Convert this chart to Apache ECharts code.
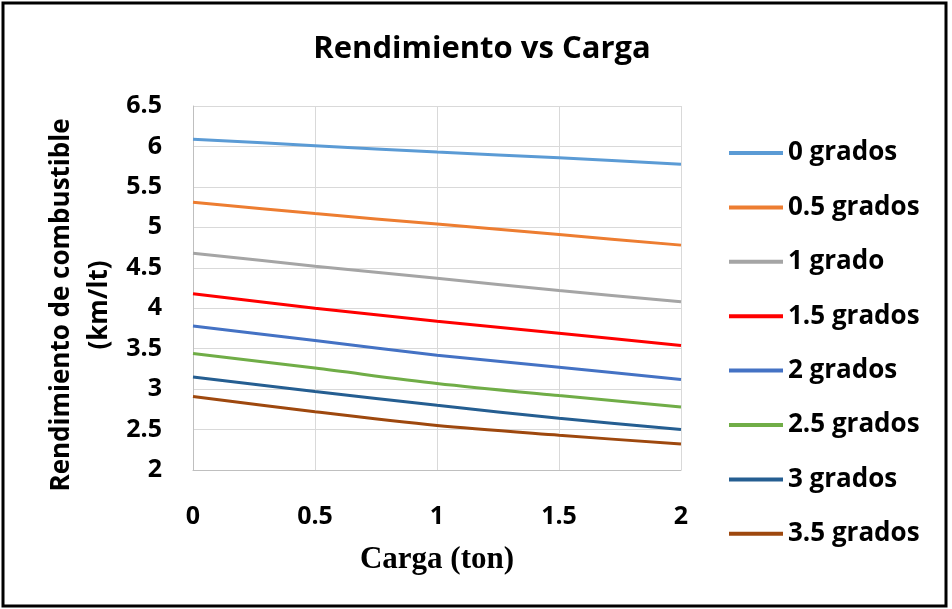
<!DOCTYPE html>
<html>
<head>
<meta charset="utf-8">
<script src="https://cdn.jsdelivr.net/npm/echarts@6/dist/echarts.min.js"></script>
<style>
  html, body { margin: 0; padding: 0; background: #fff; }
  #chart { width: 952px; height: 609px; }
</style>
</head>
<body>
<div id="chart"></div>
<script>
// load (ton) on the x axis
const carga = [0, 0.5, 1, 1.5, 2];

const seriesNames = ['0 grados', '0.5 grados', '1 grado', '1.5 grados', '2 grados', '2.5 grados', '3 grados', '3.5 grados'];
const seriesColors = ['#5B9BD5', '#ED7D31', '#A5A5A5', '#FF0000', '#4472C4', '#70AD47', '#255E91', '#9E480E'];

// rendimiento (km/lt)
const g0 = [6.09, 6.01, 5.93, 5.86, 5.78];
const g05 = [5.31, 5.17, 5.04, 4.91, 4.78];
const g1 = [4.68, 4.52, 4.37, 4.22, 4.08];
const g15 = [4.18, 4.00, 3.84, 3.69, 3.54];
const g2 = [3.78, 3.60, 3.42, 3.27, 3.12];
const g25 = [3.44, 3.26, 3.07, 2.92, 2.78];
const g3 = [3.15, 2.97, 2.80, 2.64, 2.50];
const g35 = [2.91, 2.72, 2.55, 2.43, 2.32];

const allValues = [g0, g05, g1, g15, g2, g25, g3, g35];

const chart = echarts.init(document.getElementById('chart'));

const labelFont = '"Open Sans", "Noto Sans", sans-serif';

const option = {
  animation: false,
  title: {
    text: 'Rendimiento vs Carga',
    left: 477,
    top: 29,
    textAlign: 'center',
    textStyle: { fontFamily: labelFont, fontWeight: 'bold', fontSize: 31, color: '#000' }
  },
  legend: {
    orient: 'vertical',
    left: 724,
    top: 133,
    itemWidth: 54,
    itemHeight: 4,
    itemGap: 24.4,
    icon: 'rect',
    data: seriesNames,
    textStyle: { fontFamily: labelFont, fontWeight: 'bold', fontSize: 26, color: '#000', lineHeight: 30 }
  },
  grid: { left: 193, right: 271, top: 106, bottom: 139 },
  xAxis: {
    type: 'value',
    min: 0, max: 2, interval: 0.5,
    name: 'Carga (ton)',
    nameLocation: 'middle',
    nameGap: 74,
    nameTextStyle: { fontFamily: '"Liberation Serif", serif', fontWeight: 'bold', fontSize: 31, color: '#000' },
    axisLine: { lineStyle: { color: '#BFBFBF', width: 1 } },
    axisTick: { show: false },
    splitLine: { show: true, lineStyle: { color: '#D9D9D9', width: 1 } },
    axisLabel: { margin: 34, fontFamily: labelFont, fontWeight: 'bold', fontSize: 25, color: '#000' }
  },
  yAxis: {
    type: 'value',
    min: 2, max: 6.5, interval: 0.5,
    axisLine: { show: true, lineStyle: { color: '#BFBFBF', width: 1 } },
    axisTick: { show: false },
    splitLine: { show: true, lineStyle: { color: '#D9D9D9', width: 1 } },
    axisLabel: { margin: 31, fontFamily: labelFont, fontWeight: 'bold', fontSize: 25, color: '#000' }
  },
  series: seriesNames.map((name, i) => ({
    name: name,
    type: 'line',
    smooth: 0.3,
    showSymbol: false,
    color: seriesColors[i],
    lineStyle: { width: 3, color: seriesColors[i] },
    data: carga.map((x, j) => [x, allValues[i][j]])
  })),
  graphic: [{
    type: 'rect',
    shape: { x: 3, y: 3, width: 943, height: 603 },
    style: { fill: 'none', stroke: '#000', lineWidth: 3 },
    silent: true
  }, {
    // y axis title sits a bit below the plot centre in the original
    type: 'text',
    x: 81,
    y: 305,
    rotation: Math.PI / 2,
    style: {
      text: 'Rendimiento de combustible\n(km/lt)',
      fontFamily: labelFont,
      fontWeight: 'bold',
      fontSize: 26,
      lineHeight: 38,
      fill: '#000',
      align: 'center',
      verticalAlign: 'middle'
    },
    silent: true
  }]
};

chart.setOption(option);
</script>
</body>
</html>
